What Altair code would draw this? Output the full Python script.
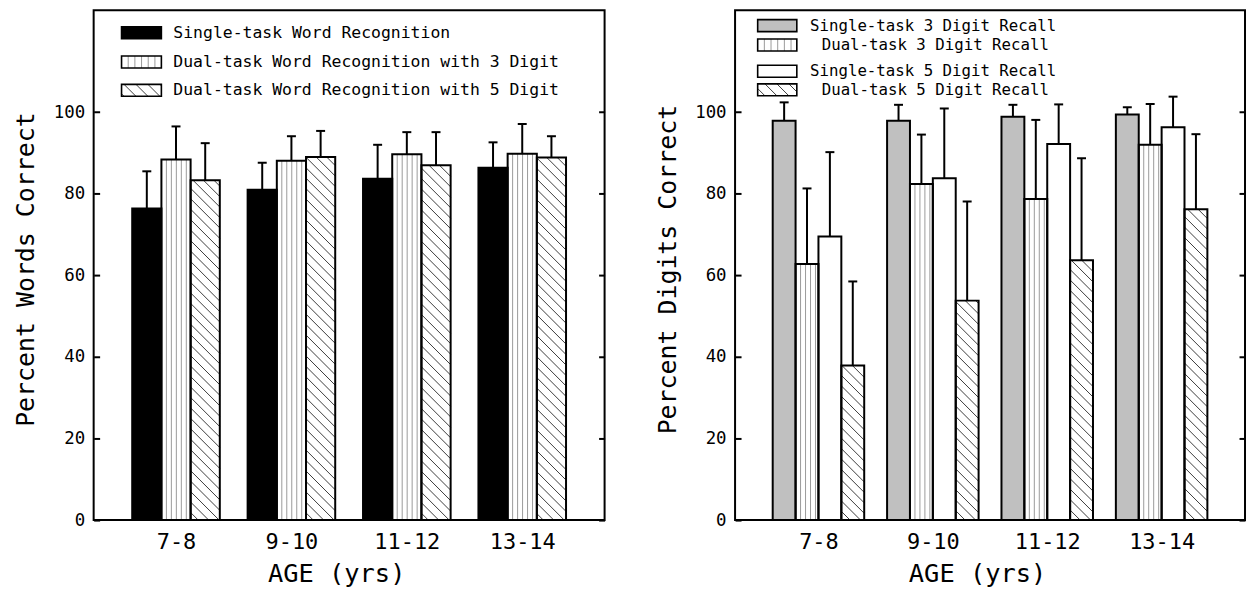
import math
import altair as alt
import pandas as pd

# ---------------- data ----------------
AGES = ["7-8", "9-10", "11-12", "13-14"]

WORD_SERIES = [
    "Single-task Word Recognition",
    "Dual-task Word Recognition with 3 Digit",
    "Dual-task Word Recognition with 5 Digit",
]
WORD_SINGLE = [76.4, 81.0, 83.7, 86.4]
WORD_DUAL3 = [88.4, 88.1, 89.7, 89.8]
WORD_DUAL5 = [83.3, 89.0, 87.0, 88.9]
WORD_SINGLE_SD = [9.1, 6.6, 8.3, 6.2]
WORD_DUAL3_SD = [8.1, 6.0, 5.4, 7.3]
WORD_DUAL5_SD = [9.1, 6.4, 8.1, 5.2]

DIGIT_SERIES = [
    "Single-task 3 Digit Recall",
    "Dual-task 3 Digit Recall",
    "Single-task 5 Digit Recall",
    "Dual-task 5 Digit Recall",
]
DIGIT_S3 = [97.9, 97.9, 98.9, 99.4]
DIGIT_D3 = [62.8, 82.4, 78.7, 92.0]
DIGIT_S5 = [69.5, 83.8, 92.2, 96.3]
DIGIT_D5 = [37.9, 53.8, 63.7, 76.2]
DIGIT_S3_SD = [4.5, 3.9, 2.9, 1.8]
DIGIT_D3_SD = [18.5, 12.1, 19.4, 10.0]
DIGIT_S5_SD = [20.7, 17.1, 9.7, 7.5]
DIGIT_D5_SD = [20.6, 24.3, 25.0, 18.4]

Y_TICKS = [0, 20, 40, 60, 80, 100]

# ---------------- style / layout ----------------
FONT = "DejaVu Sans Mono"
H = 512
YMAX = 125


def diag_segments(px0, px1, py0, py1, spacing):
    segs = []
    cmin, cmax = px0 + py0, px1 + py1
    for k in range(math.ceil(cmin / spacing), math.floor(cmax / spacing) + 1):
        c = k * spacing
        xa = max(px0, c - py1)
        xb = min(px1, c - py0)
        if xb - xa > 0.8:
            segs.append((xa, c - xa, xb, c - xb))
    return segs


def build_panel(series, means, errs, fills, patterns, W, xpad, group_w,
                legend_rows, ytitle, leg_font, leg_h=12):
    n = len(series)
    xmin, xmax = 1 - xpad, len(AGES) + xpad
    kx = W / (xmax - xmin)
    ky = H / YMAX
    bw = group_w / n

    def to_dx(px):
        return xmin + px / kx

    def to_dy(py):
        return py / ky

    rects, errbars = [], []
    for gi in range(len(AGES)):
        c = gi + 1
        for si, s in enumerate(series):
            x0 = c - group_w / 2 + si * bw
            m = means[si][gi]
            e = errs[si][gi]
            rects.append(dict(series=s, x0=x0, x1=x0 + bw, y0=0.0, y1=m,
                              pat=patterns[si], sw=2.0, vsp=5.0, dsp=10.5))
            errbars.append(dict(xm=x0 + bw / 2, y=m, y2=m + e))

    texts = []
    for si, (sx0, sx1, cy, tx) in enumerate(legend_rows):
        rects.append(dict(series=series[si], x0=to_dx(sx0), x1=to_dx(sx1),
                          y0=to_dy(H - cy - leg_h / 2), y1=to_dy(H - cy + leg_h / 2),
                          pat=patterns[si], sw=1.6, vsp=6.7, dsp=12.0))
        texts.append(dict(label=series[si], x=to_dx(tx), y=to_dy(H - cy)))

    hatch = []
    for r in rects:
        px0, px1 = (r["x0"] - xmin) * kx, (r["x1"] - xmin) * kx
        py0, py1 = r["y0"] * ky, r["y1"] * ky
        if r["pat"] == "v":
            k = 1
            while px0 + k * r["vsp"] < px1 - 1.5:
                xx = px0 + k * r["vsp"]
                hatch.append(dict(xa=to_dx(xx), ya=to_dy(py0), xb=to_dx(xx), yb=to_dy(py1), kind="v"))
                k += 1
        elif r["pat"] == "d":
            for (xa, ya, xb, yb) in diag_segments(px0, px1, py0, py1, r["dsp"]):
                hatch.append(dict(xa=to_dx(xa), ya=to_dy(ya), xb=to_dx(xb), yb=to_dy(yb), kind="d"))

    rect_df = pd.DataFrame(rects)
    err_df = pd.DataFrame(errbars)
    hatch_df = pd.DataFrame(hatch)
    text_df = pd.DataFrame(texts)

    xs = alt.Scale(domain=[xmin, xmax], nice=False, zero=False)
    ys = alt.Scale(domain=[0, YMAX], nice=False, zero=False)

    label_expr = "[" + ",".join("'%s'" % a for a in AGES) + "][datum.value - 1]"

    fill_layer = alt.Chart(rect_df).mark_rect(strokeWidth=0).encode(
        x=alt.X("x0:Q", scale=xs, title="AGE (yrs)",
                axis=alt.Axis(values=[1, 2, 3, 4], labelExpr=label_expr, ticks=False,
                              domain=False, grid=False, labelPadding=12, orient="bottom",
                              labelFontSize=22, titleFontSize=25.5, titleY=62,
                              titleX=W / 2 - 13, titleAlign="center",
                              titleBaseline="alphabetic")),
        x2="x1:Q",
        y=alt.Y("y1:Q", scale=ys, title=ytitle,
                axis=alt.Axis(values=Y_TICKS, orient="left", grid=False, domain=False,
                              tickSize={"expr": "-6"}, tickWidth=2, tickColor="black",
                              labelPadding=15, labelFontSize=17.5, titleFontSize=25,
                              titleX=-60, titleY=260, titleAngle=-90,
                              titleBaseline="alphabetic", titleAlign="center")),
        y2="y0:Q",
        fill=alt.Fill("series:N", scale=alt.Scale(domain=series, range=fills), legend=None),
    )

    hatch_layer = alt.Chart(hatch_df).mark_rule(strokeWidth=1).encode(
        x=alt.X("xa:Q", scale=xs, axis=None),
        x2="xb:Q",
        y=alt.Y("ya:Q", scale=ys, axis=None),
        y2="yb:Q",
        color=alt.Color("kind:N", scale=alt.Scale(domain=["v", "d"], range=["#9a9a9a", "#3c3c3c"]),
                        legend=None),
    )

    outline_layer = alt.Chart(rect_df).mark_rect(fillOpacity=0, stroke="black").encode(
        x=alt.X("x0:Q", scale=xs, axis=None),
        x2="x1:Q",
        y=alt.Y("y1:Q", scale=ys,
                axis=alt.Axis(values=Y_TICKS, orient="right", labels=False, title=None,
                              grid=False, domain=False, tickSize={"expr": "-6"},
                              tickWidth=2, tickColor="black")),
        y2="y0:Q",
        strokeWidth=alt.StrokeWidth("sw:Q", scale=None),
    )

    err_layer = alt.Chart(err_df).mark_rule(strokeWidth=2, color="black").encode(
        x=alt.X("xm:Q", scale=xs, axis=None),
        y=alt.Y("y:Q", scale=ys, axis=None),
        y2="y2:Q",
    )

    cap_layer = alt.Chart(err_df).mark_tick(orient="horizontal", size=9, thickness=2,
                                            color="black", opacity=1).encode(
        x=alt.X("xm:Q", scale=xs, axis=None),
        y=alt.Y("y2:Q", scale=ys, axis=None),
    )

    text_layer = alt.Chart(text_df).mark_text(align="left", baseline="middle", font=FONT,
                                              fontSize=leg_font, color="black").encode(
        x=alt.X("x:Q", scale=xs, axis=None),
        y=alt.Y("y:Q", scale=ys, axis=None),
        text="label:N",
    )

    return alt.layer(fill_layer, hatch_layer, outline_layer, err_layer, cap_layer,
                     text_layer).resolve_axis(x="independent", y="independent").properties(
        width=W, height=H)


left = build_panel(
    WORD_SERIES,
    [WORD_SINGLE, WORD_DUAL3, WORD_DUAL5],
    [WORD_SINGLE_SD, WORD_DUAL3_SD, WORD_DUAL5_SD],
    ["black", "white", "white"],
    ["none", "v", "d"],
    W=513, xpad=0.7136, group_w=0.759,
    legend_rows=[(28, 68, 22.7, 80), (28, 68, 52, 80), (28, 68, 80.5, 80)],
    ytitle="Percent Words Correct",
    leg_font=16.5,
)

right = build_panel(
    DIGIT_SERIES,
    [DIGIT_S3, DIGIT_D3, DIGIT_S5, DIGIT_D5],
    [DIGIT_S3_SD, DIGIT_D3_SD, DIGIT_S5_SD, DIGIT_D5_SD],
    ["#c0c0c0", "white", "white", "white"],
    ["none", "v", "none", "d"],
    W=512, xpad=0.729, group_w=0.8,
    legend_rows=[(22.7, 62, 15.5, 75.3), (22.7, 62, 35, 87),
                 (22.7, 62, 61.3, 75.3), (22.7, 62, 80, 87)],
    ytitle="Percent Digits Correct",
    leg_font=15.8,
)

chart = alt.hconcat(left, right, spacing=48).resolve_scale(
    fill="independent", color="independent"
).properties(
    padding={"left": 5, "top": 0, "right": 0, "bottom": 0}
).configure_view(stroke="black", strokeWidth=2).configure_axis(
    labelFont=FONT, titleFont=FONT, labelColor="black", titleColor="black",
    titleFontWeight="normal"
)

chart.save("out.html", embed_options={"renderer": "svg", "actions": False})
